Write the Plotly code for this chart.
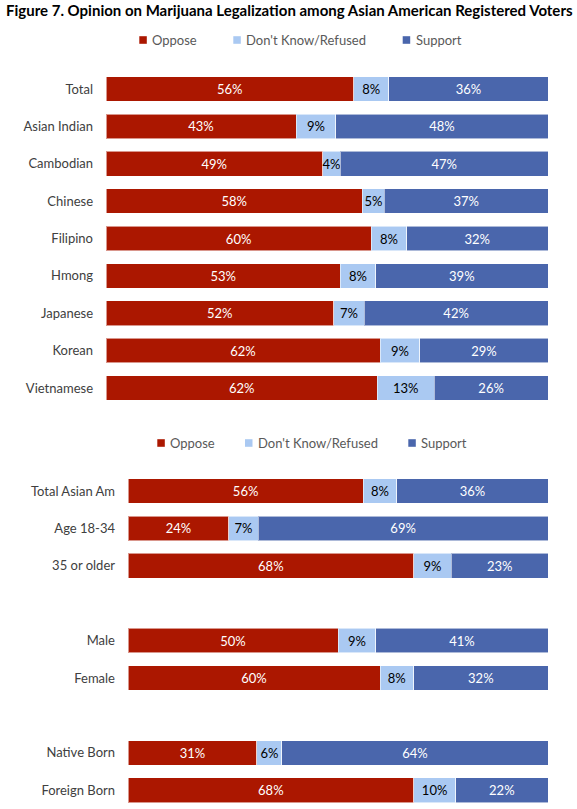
import plotly.graph_objects as go

top_cats = ["Total", "Asian Indian", "Cambodian", "Chinese", "Filipino", "Hmong", "Japanese", "Korean", "Vietnamese"]
top_oppose = [56, 43, 49, 58, 60, 53, 52, 62, 62]
top_dk = [8, 9, 4, 5, 8, 8, 7, 9, 13]
top_support = [36, 48, 47, 37, 32, 39, 42, 29, 26]

bot_cats = ["Total Asian Am", "Age 18-34", "35 or older", "Male", "Female", "Native Born", "Foreign Born"]
bot_oppose = [56, 24, 68, 50, 60, 31, 68]
bot_dk = [8, 7, 9, 9, 8, 6, 10]
bot_support = [36, 69, 23, 41, 32, 64, 22]
bot_order = ["Total Asian Am", "Age 18-34", "35 or older", " ", "Male", "Female", "  ", "Native Born", "Foreign Born"]

series = ["Oppose", "Don't Know/Refused", "Support"]
colors = ["#AB1700", "#AAC9F2", "#4A66AC"]
text_colors = ["white", "black", "white"]

W, H = 577, 809
def px(p):
    return p / W
def py(p):
    return (H - p) / H

fig = go.Figure()
for cats, vals_list, xa, ya in [
    (top_cats, [top_oppose, top_dk, top_support], "x", "y"),
    (bot_cats, [bot_oppose, bot_dk, bot_support], "x2", "y2"),
]:
    for name, vals, c, tc in zip(series, vals_list, colors, text_colors):
        fig.add_trace(go.Bar(
            y=cats, x=vals, name=name, orientation="h",
            marker=dict(color=c, line=dict(color="rgba(255,255,255,0.55)", width=1)),
            text=[f"{v}%" for v in vals], textposition="inside", textangle=0,
            insidetextanchor="middle", constraintext="none",
            textfont=dict(color=tc, size=13, family="Lato"),
            xaxis=xa, yaxis=ya, showlegend=False, hoverinfo="skip",
        ))

# legends drawn as colour keys + labels
legend_rows = [
    (40, [139.3, 233.3, 402.7]),
    (443, [157.3, 245.0, 408.3]),
]
shapes, annotations = [], []
for yc, xs in legend_rows:
    for name, c, x0 in zip(series, colors, xs):
        shapes.append(dict(type="rect", xref="paper", yref="paper",
                           x0=px(x0), x1=px(x0 + 7.5), y0=py(yc + 3.8), y1=py(yc - 3.8),
                           fillcolor=c, line=dict(width=0)))
        annotations.append(dict(text=name, xref="paper", yref="paper",
                                x=px(x0 + 11), y=py(yc), xanchor="left", yanchor="middle",
                                showarrow=False, font=dict(size=13, color="#595959", family="Lato")))

fig.update_layout(
    width=W, height=H, barmode="stack", barnorm="percent", bargap=0.34,
    margin=dict(l=0, r=0, t=0, b=0),
    plot_bgcolor="white", paper_bgcolor="white",
    font=dict(family="Lato", size=13, color="#404040"),
    title=dict(text="<b>Figure 7. Opinion on Marijuana Legalization among Asian American Registered Voters</b>",
               x=px(6), xanchor="left", y=py(10.5), yanchor="middle",
               font=dict(family="Lato", size=15, color="black")),
    xaxis=dict(domain=[px(106), px(548)], range=[0, 100], visible=False, fixedrange=True),
    yaxis=dict(domain=[py(406.7), py(70.3)], categoryorder="array", categoryarray=top_cats,
               autorange="reversed", showgrid=False, zeroline=False, ticks="",
               ticklabelstandoff=12, tickfont=dict(size=13, color="#404040")),
    xaxis2=dict(domain=[px(128), px(548)], range=[0, 100], visible=False, anchor="y2"),
    yaxis2=dict(domain=[0, py(472.3)], categoryorder="array", categoryarray=bot_order,
                autorange="reversed", showgrid=False, zeroline=False, ticks="", anchor="x2",
                ticklabelstandoff=12, tickfont=dict(size=13, color="#404040")),
    shapes=shapes, annotations=annotations,
)

fig.write_html("out.html", config={"displayModeBar": False},
               post_script="document.body.style.margin='0';document.body.style.overflow='hidden';")
